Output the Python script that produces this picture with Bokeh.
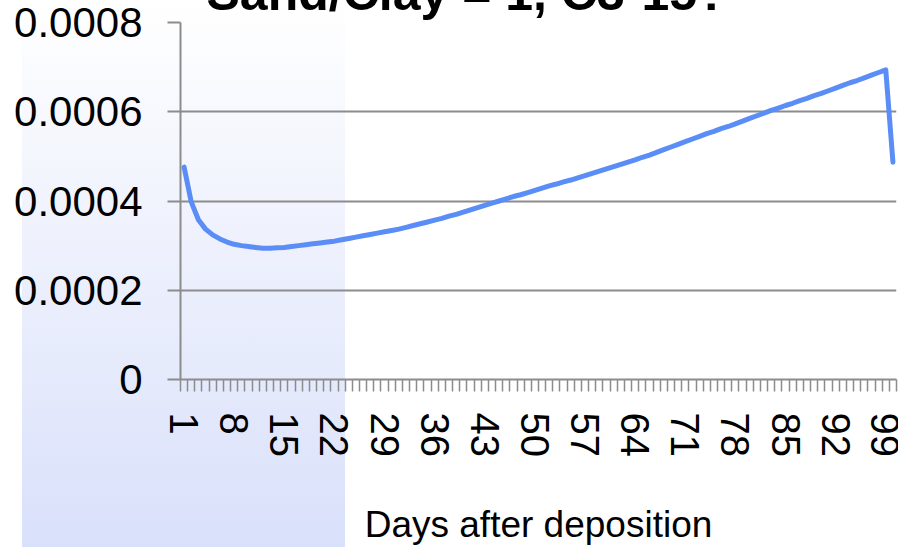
from bokeh.plotting import figure
from bokeh.models import Range1d, FixedTicker
from bokeh.embed import file_html
from bokeh.resources import INLINE

# ---- data ----
days = list(range(1, 101))
values = [
    0.000476, 0.000398, 0.000358, 0.000337, 0.000324, 0.000315, 0.000308, 0.000303, 0.000300, 0.000298,
    0.000296, 0.000294, 0.000294, 0.000295, 0.000296, 0.000298, 0.000300, 0.000302, 0.000304, 0.000306,
    0.000308, 0.000310, 0.000313, 0.000316, 0.000319, 0.000322, 0.000325, 0.000328, 0.000331, 0.000334,
    0.000337, 0.000341, 0.000345, 0.000349, 0.000353, 0.000357, 0.000361, 0.000366, 0.000370, 0.000375,
    0.000380, 0.000385, 0.000390, 0.000395, 0.000400, 0.000405, 0.000410, 0.000414, 0.000419, 0.000424,
    0.000429, 0.000434, 0.000438, 0.000443, 0.000447, 0.000452, 0.000457, 0.000462, 0.000467, 0.000472,
    0.000477, 0.000482, 0.000487, 0.000492, 0.000498, 0.000503, 0.000509, 0.000515, 0.000521, 0.000527,
    0.000533, 0.000539, 0.000545, 0.000551, 0.000556, 0.000562, 0.000567, 0.000573, 0.000579, 0.000585,
    0.000591, 0.000597, 0.000603, 0.000608, 0.000614, 0.000619, 0.000625, 0.000630, 0.000636, 0.000641,
    0.000647, 0.000653, 0.000659, 0.000665, 0.000670, 0.000676, 0.000682, 0.000688, 0.000694, 0.000487,
]
x_tick_days = [1, 8, 15, 22, 29, 36, 43, 50, 57, 64, 71, 78, 85, 92, 99]
y_ticks = [0, 0.0002, 0.0004, 0.0006, 0.0008]
y_tick_labels = ["0", "0.0002", "0.0004", "0.0006", "0.0008"]
title_text = "Sand/Clay = 1, C3-15?"
x_title = "Days after deposition"

FONT = "Liberation Sans"
GRAY = "#8c8c8c"
SHIFT = 78  # the reference's chart is cropped at the top: part of the title lies above the window

p = figure(width=898, height=547 + SHIFT, output_backend="svg", toolbar_location=None,
           x_range=Range1d(0.5, 100.5), y_range=Range1d(0, 0.0008),
           min_border_left=180, min_border_right=2, min_border_top=22 + SHIFT, min_border_bottom=167)
p.styles = {
    "position": "absolute", "left": "0px", "top": f"-{SHIFT}px",
    "background-image": "linear-gradient(to bottom, #ffffff, #d9e0fa)",
    "background-size": "323px 547px",
    "background-repeat": "no-repeat",
    "background-position": f"22px {SHIFT}px",
}
p.background_fill_color = None
p.border_fill_color = None
p.outline_line_color = None

p.title.text = title_text
p.title.text_font = FONT
p.title.text_font_size = "50px"
p.title.text_font_style = "bold"
p.title.text_color = "black"
p.title.align = "left"
p.title.offset = 26
p.title.standoff = 3

p.line(days, values, line_color="#5B8DF6", line_width=5, line_join="round", line_cap="round")

# x axis
xa = p.xaxis[0]
xa.ticker = FixedTicker(ticks=x_tick_days, minor_ticks=[d + 0.5 for d in range(0, 101)])
xa.major_label_overrides = {d: str(d) for d in x_tick_days}
xa.major_label_orientation = "vertical"
xa.major_tick_out = 0
xa.major_tick_in = 0
xa.minor_tick_out = 12
xa.minor_tick_in = 0
xa.minor_tick_line_color = GRAY
xa.minor_tick_line_width = 1.5
xa.axis_line_color = GRAY
xa.axis_line_width = 2
xa.major_label_standoff = 21
xa.major_label_text_font = FONT
xa.major_label_text_font_size = "40px"
xa.major_label_text_color = "black"
xa.axis_label = x_title
xa.axis_label_text_font = FONT
xa.axis_label_text_font_size = "37px"
xa.axis_label_text_font_style = "normal"
xa.axis_label_text_color = "black"
xa.axis_label_standoff = 44

# y axis
ya = p.yaxis[0]
ya.ticker = FixedTicker(ticks=y_ticks)
ya.major_label_overrides = {t: l for t, l in zip(y_ticks, y_tick_labels)}
ya.major_tick_out = 13
ya.major_tick_in = 0
ya.minor_tick_out = 0
ya.minor_tick_in = 0
ya.major_tick_line_color = GRAY
ya.major_tick_line_width = 2
ya.axis_line_color = GRAY
ya.axis_line_width = 2
ya.major_label_standoff = 25
ya.major_label_text_font = FONT
ya.major_label_text_font_size = "42px"
ya.major_label_text_color = "black"

p.xgrid.grid_line_color = None
p.ygrid.grid_line_color = GRAY
p.ygrid.grid_line_width = 2

open("out.html", "w").write(file_html(p, INLINE))
